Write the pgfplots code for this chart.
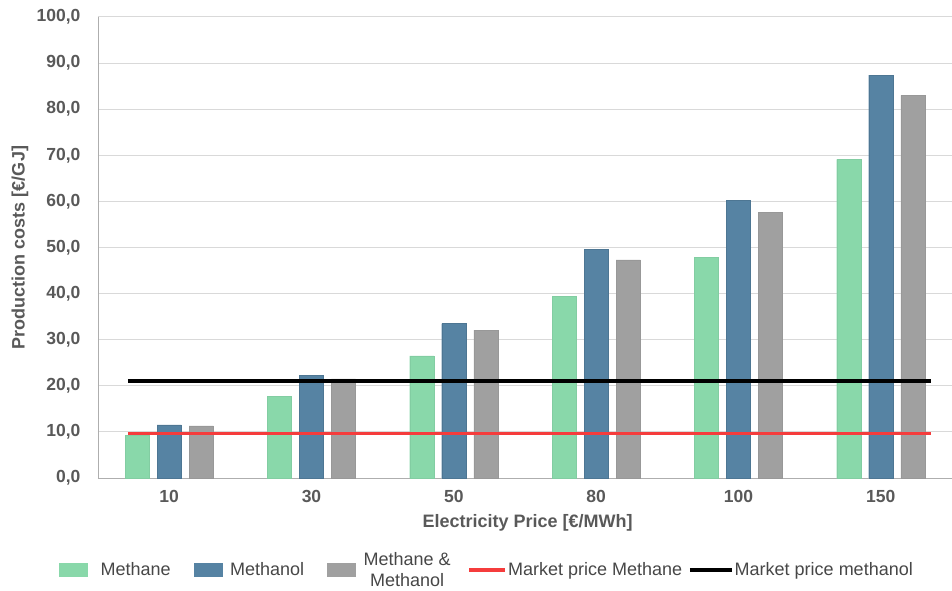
\documentclass[border=0pt]{standalone}
\usepackage{fontspec}
\setmainfont{Liberation Sans}
\usepackage{pgfplots}
\pgfplotsset{compat=1.18}
\definecolor{cMethane}{RGB}{137,216,170}
\definecolor{cMethanol}{RGB}{86,131,163}
\definecolor{cMix}{RGB}{160,160,160}
\definecolor{cRed}{RGB}{245,60,60}
\definecolor{cTxt}{RGB}{89,89,89}
\definecolor{cGrid}{RGB}{217,217,217}
\begin{document}
\begin{tikzpicture}
\begin{axis}[
  scale only axis, width=854pt, height=461pt,
  xmin=-0.5, xmax=5.5, ymin=0, ymax=100,
  xtick={0,1,2,3,4,5}, xticklabels={10,30,50,80,100,150},
  ytick={0,10,...,100},
  axis lines=left, axis line style={-, draw=cGrid!80!black, line width=0.8pt},
  ymajorgrids, grid style={cGrid, line width=1pt},
  major tick length=0pt,
  tick label style={font=\fontsize{17.5}{20}\selectfont\bfseries, text=cTxt},
  /pgf/number format/assume math mode=true,
  yticklabel style={/pgf/number format/fixed, /pgf/number format/fixed zerofill,
    /pgf/number format/precision=1, /pgf/number format/use comma, xshift=-14pt},
  xticklabel style={yshift=-9pt},
  xlabel={Electricity Price [€/MWh]},
  ylabel={Production costs [€/GJ]},
  label style={font=\fontsize{18}{21}\selectfont\bfseries, text=cTxt},
  xlabel style={at={(axis description cs:0.503,-0.0976)}, anchor=center},
  ylabel style={at={(axis description cs:-0.0913,0.5)}, anchor=center},
  legend columns=5,
  legend style={at={(axis description cs:0.455,-0.199)}, anchor=center, draw=none,
    font=\fontsize{18}{21}\selectfont, text=cTxt!80!black,
    nodes={align=center, inner sep=1pt},
    /tikz/column 1/.style={column sep=12pt},
    /tikz/column 2/.style={column sep=22pt},
    /tikz/column 3/.style={column sep=7pt},
    /tikz/column 4/.style={column sep=22pt},
    /tikz/column 5/.style={column sep=7pt},
    /tikz/column 6/.style={column sep=16pt},
    /tikz/column 7/.style={column sep=0pt},
    /tikz/column 8/.style={column sep=5pt},
    /tikz/column 9/.style={column sep=0pt}},
  clip=false,
]
\coordinate (ll) at (rel axis cs:0,0);
\coordinate (ur) at (rel axis cs:1,1);
\addplot[ybar, bar width=0.17, bar shift=-0.225, fill=cMethane, draw=cMethane!95!black,
  legend image code/.code={\fill[cMethane] (0pt,-6pt) rectangle (28pt,7pt);}]
  coordinates {(0,9.2) (1,17.7) (2,26.5) (3,39.4) (4,47.8) (5,69.1)};
\addlegendentry{Methane}
\addplot[ybar, bar width=0.17, bar shift=0, fill=cMethanol, draw=cMethanol!90!black,
  legend image code/.code={\fill[cMethanol] (0pt,-6pt) rectangle (28pt,7pt);}]
  coordinates {(0,11.5) (1,22.2) (2,33.5) (3,49.6) (4,60.3) (5,87.4)};
\addlegendentry{Methanol}
\addplot[ybar, bar width=0.17, bar shift=0.225, fill=cMix, draw=cMix!95!black,
  legend image code/.code={\fill[cMix] (0pt,-6pt) rectangle (28pt,7pt);}]
  coordinates {(0,11.3) (1,21.5) (2,32.1) (3,47.3) (4,57.6) (5,83.0)};
\addlegendentry{Methane \&\\Methanol}
\addplot[cRed, line width=3pt, sharp plot,
  legend image code/.code={\draw[cRed, line width=3.5pt] (0pt,0pt) -- (36pt,0pt);}]
  coordinates {(-0.29,9.6) (5.35,9.6)};
\addlegendentry{Market price Methane}
\addplot[black, line width=3.5pt, sharp plot,
  legend image code/.code={\draw[black, line width=3.5pt] (0pt,0pt) -- (42pt,0pt);}]
  coordinates {(-0.29,21.0) (5.35,21.0)};
\addlegendentry{Market price methanol}
\end{axis}
\pgfresetboundingbox
\path ([shift={(-98pt,-112pt)}]ll) rectangle ([shift={(0pt,17pt)}]ur);
\end{tikzpicture}
\end{document}
